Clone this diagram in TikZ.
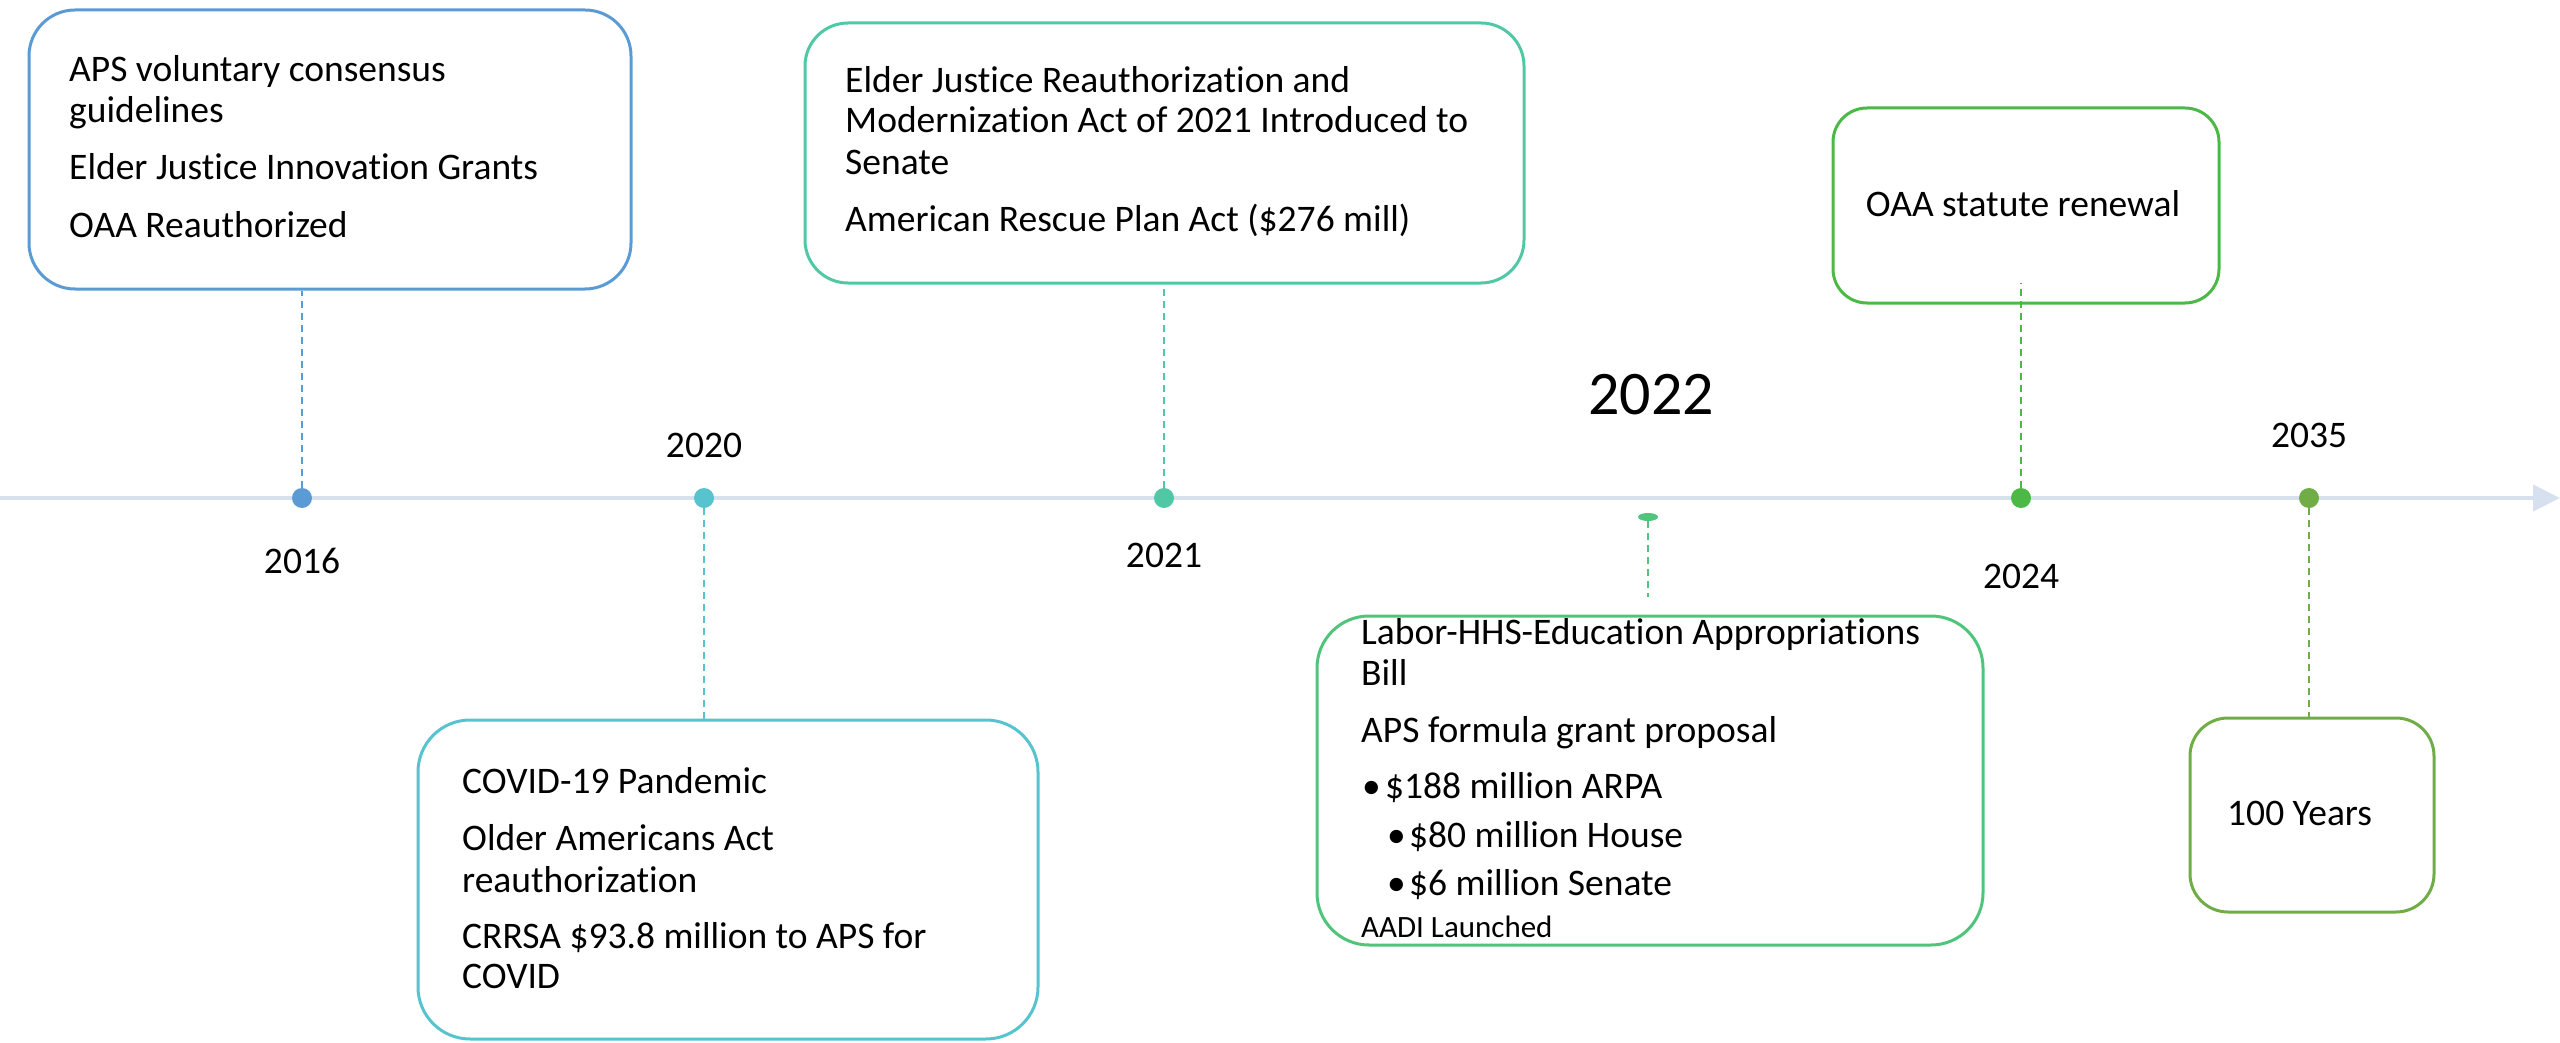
\documentclass[tikz,border=0pt]{standalone}
\usepackage{fontspec}
\setmainfont{Carlito}[Ligatures=NoCommon]
\usetikzlibrary{arrows.meta,shapes.geometric}
\definecolor{c16}{HTML}{5B9BD5}
\definecolor{c20}{HTML}{57C3CF}
\definecolor{c21}{HTML}{50C8A6}
\definecolor{c22}{HTML}{4FC47A}
\definecolor{c24}{HTML}{4CB946}
\definecolor{c35}{HTML}{70AD47}
\definecolor{axiscol}{HTML}{D7E0EF}
\newcommand\lineat[4]{\node[txt,anchor=base west] (#1) at (#2,#3) {#4};}
\begin{document}
\begin{tikzpicture}[x=1pt,y=-1pt,
  txt/.style={inner sep=0pt, font=\fontsize{37.5}{41}\selectfont},
  yr/.style={inner sep=0pt, anchor=base, font=\fontsize{37.5}{41}\selectfont},
  evbox/.style={draw=#1, line width=3pt, fill=white},
  dot/.style={circle, fill=#1, minimum size=20pt, inner sep=0pt},
  conn/.style={draw=#1, line width=1.5pt, dash pattern=on 7pt off 5pt},
  axisline/.style={draw=axiscol, line width=4pt, -{Triangle[length=27pt,width=26pt,fill=axiscol]}}
]
\useasboundingbox (0,0) rectangle (2560,1043);

% axis
\coordinate (axL) at (0,498);
\coordinate (axR) at (2560,498);
\draw[axisline] (axL) -- (axR);

% boxes
\node[evbox=c16, rounded corners=46pt, minimum width=602pt, minimum height=279pt] (b1) at (330,149.5) {};
\node[evbox=c21, rounded corners=43pt, minimum width=719pt, minimum height=260pt] (b2) at (1164.5,153) {};
\node[evbox=c24, rounded corners=34pt, minimum width=386pt, minimum height=195pt] (b3) at (2026,205.5) {};
\node[evbox=c20, rounded corners=52pt, minimum width=620pt, minimum height=319pt] (b4) at (728,879.5) {};
\node[evbox=c22, rounded corners=52pt, minimum width=666pt, minimum height=329pt] (b5) at (1650,780.5) {};
\node[evbox=c35, rounded corners=38pt, minimum width=244pt, minimum height=194pt] (b6) at (2312,815) {};

% dots
\node[dot=c16] (d16) at (302,498) {};
\node[dot=c20] (d20) at (704,498) {};
\node[dot=c21] (d21) at (1164,498) {};
\node[ellipse, fill=c22, minimum width=20pt, minimum height=8pt, inner sep=0pt] (d22) at (1648,517) {};
\node[dot=c24] (d24) at (2021,498) {};
\node[dot=c35] (d35) at (2309,498) {};

% connectors
\coordinate (c22) at (1648,597);
\coordinate (c24) at (2021,283);
\draw[conn=c16] (d16.north) -- (d16.north |- b1.south);
\draw[conn=c20] (d20.south) -- (d20.south |- b4.north);
\draw[conn=c21] (d21.north) -- (d21.north |- b2.south);
\draw[conn=c22] (d22.south) -- (c22);
\draw[conn=c24] (d24.north) -- (c24);
\draw[conn=c35] (d35.south) -- (d35.south |- b6.north);

% year labels
\node[yr] (y16) at (302,573) {2016};
\node[yr] (y20) at (704,457) {2020};
\node[yr] (y21) at (1164,567) {2021};
\node[yr, font=\fontsize{62}{70}\selectfont] (y22) at (1651,414) {2022};
\node[yr] (y24) at (2021,588) {2024};
\node[yr] (y35) at (2309,447) {2035};

% box 1 text
\lineat{t1a}{69}{82}{APS voluntary consensus}
\lineat{t1b}{69}{123}{guidelines}
\lineat{t1c}{69}{180}{Elder Justice Innovation Grants}
\lineat{t1d}{69}{237}{OAA Reauthorized}

% box 2 text
\lineat{t2a}{845}{93}{Elder Justice Reauthorization and}
\lineat{t2b}{845}{133}{Modernization Act of 2021 Introduced to}
\lineat{t2c}{845}{175}{Senate}
\lineat{t2d}{845}{232}{American Rescue Plan Act (\$276 mill)}

% box 3 text
\node[txt, anchor=base] (t3a) at (2023,217) {OAA statute renewal};

% box 4 text
\lineat{t4a}{462}{793}{COVID-19 Pandemic}
\lineat{t4b}{462}{850}{Older Americans Act}
\lineat{t4c}{462}{892}{reauthorization}
\lineat{t4d}{462}{948}{CRRSA \$93.8 million to APS for}
\lineat{t4e}{462}{988}{COVID}

% box 5 text
\lineat{t5a}{1361}{644}{Labor-HHS-Education Appropriations}
\lineat{t5b}{1361}{685}{Bill}
\lineat{t5c}{1361}{742}{APS formula grant proposal}
\lineat{t5d}{1362}{798}{\makebox[23pt][l]{•}\$188 million ARPA}
\lineat{t5e}{1387}{847}{\makebox[22pt][l]{•}\$80 million House}
\lineat{t5f}{1387}{895}{\makebox[22pt][l]{•}\$6 million Senate}
\node[txt, anchor=base west, font=\fontsize{31}{35}\selectfont] (t5g) at (1361,937) {AADI Launched};

% box 6 text
\lineat{t6a}{2227}{825}{100 Years}
\end{tikzpicture}
\end{document}
